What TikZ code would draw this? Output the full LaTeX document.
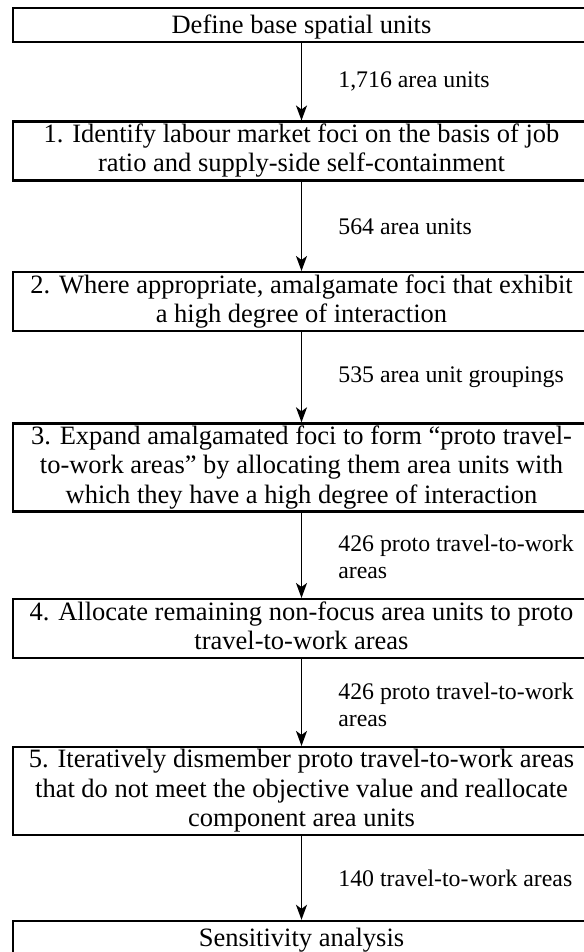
\documentclass[tikz,border=0pt]{standalone}
\usepackage{fontspec}
\setmainfont{Liberation Serif}
\usetikzlibrary{arrows.meta}
\newcommand{\boxstrut}{\rule[-6pt]{0pt}{29.3pt}}
\tikzset{>={Stealth[length=15pt,width=11pt,inset=4pt]}}
\tikzset{
  stagebox/.style={draw, line width=2.5pt, minimum width=577pt, inner xsep=0pt,
    inner ysep=2.3pt, align=center, font=\fontsize{26.5}{29.3}\selectfont,
    execute at begin node=\boxstrut, execute at end node=\boxstrut},
  countlbl/.style={anchor=west, xshift=36pt, inner sep=0pt, align=left,
    font=\fontsize{23.8}{27}\selectfont},
  flow/.style={->, line width=1.7pt}
}
\begin{document}
\begin{tikzpicture}[x=1pt, y=-1pt]
\useasboundingbox (0,0) rectangle (583,952);
\node[stagebox] (base) at (301.5,25) {Define base spatial units};
\node[stagebox] (foci) at (301.5,151) {1. Identify labour market foci on the basis of job\\ratio and supply-side self-containment};
\node[stagebox] (amalg) at (301.5,301.5) {2. Where appropriate, amalgamate foci that exhibit\\a high degree of interaction};
\node[stagebox] (expand) at (301.5,467.5) {3. Expand amalgamated foci to form ``proto travel-\\to-work areas'' by allocating them area units with\\which they have a high degree of interaction};
\node[stagebox] (alloc) at (301.5,628.5) {4. Allocate remaining non-focus area units to proto\\travel-to-work areas};
\node[stagebox] (dismember) at (301.5,791) {5. Iteratively dismember proto travel-to-work areas\\that do not meet the objective value and reallocate\\component area units};
\node[stagebox] (sens) at (301.5,938) {Sensitivity analysis};
% arrows with counts
\draw[flow] (base) -- (foci) node[midway, countlbl] (n1) {1,716 area units};
\draw[flow] (foci) -- (amalg) node[midway, countlbl] (n2) {564 area units};
\draw[flow] (amalg) -- (expand) node[midway, countlbl] (n3) {535 area unit groupings};
\draw[flow] (expand) -- (alloc) node[midway, countlbl, yshift=-2pt] (n4) {426 proto travel-to-work\\areas};
\draw[flow] (alloc) -- (dismember) node[midway, countlbl, yshift=-2pt] (n5) {426 proto travel-to-work\\areas};
\draw[flow] (dismember) -- (sens) node[midway, countlbl] (n6) {140 travel-to-work areas};
\end{tikzpicture}
\end{document}
